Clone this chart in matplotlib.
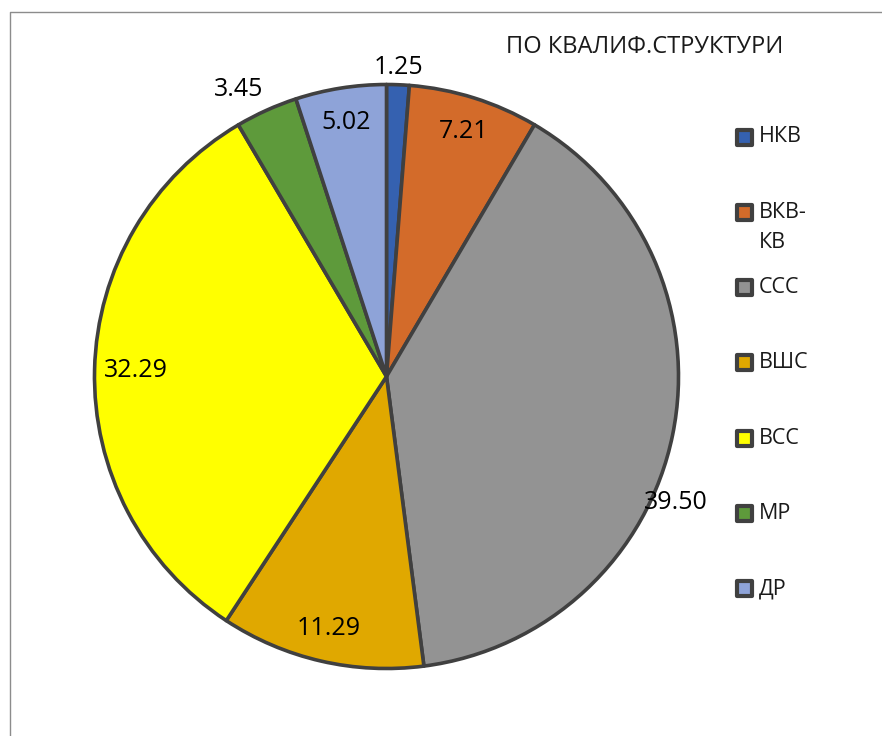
import math

import matplotlib
matplotlib.use('Agg')
import matplotlib.pyplot as plt
from matplotlib.patches import Rectangle
from matplotlib.lines import Line2D

# ── Data ───────────────────────────────────────────────────────────────────────
categories   = ['НКВ', 'ВКВ-\nКВ', 'ССС', 'ВШС', 'ВСС', 'МР', 'ДР']
values       = [1.25, 7.21, 39.50, 11.29, 32.29, 3.45, 5.02]
value_labels = ['1.25', '7.21', '39.50', '11.29', '32.29', '3.45', '5.02']
colors       = ['#3561b0', '#d36b2a', '#939393', '#e0a800', '#ffff00', '#5e9a3b', '#8ea3d8']
title        = 'ПО КВАЛИФ.СТРУКТУРИ'

# ── Layout (pixels in a 882x736 canvas) ────────────────────────────────────────
W, H      = 882, 736
CX, CY, R = 386.5, 376.5, 292
EDGE      = '#404040'
# data label radius (fraction of pie radius) and angle nudge in degrees
LABEL_R    = [1.06, 0.88, 1.08, 0.885, 0.86, 1.105, 0.88]
LABEL_DANG = [0, 0, -12, 0, 0, 3, 0]

plt.rcParams['font.family'] = ['Open Sans', 'DejaVu Sans']


def fx(x):
    return x / W


def fy(y):
    return 1 - y / H


fig = plt.figure(figsize=(W / 100, H / 100), dpi=100)
fig.patch.set_facecolor('white')

# outer chart frame (only left and top edges are visible)
fig.add_artist(Line2D([fx(9.5), fx(9.5), 1], [0, fy(11.5), fy(11.5)],
                      transform=fig.transFigure, color='#8c8c8c', linewidth=1))

ax = fig.add_axes([fx(CX - R), 1 - (CY + R) / H, 2 * R / W, 2 * R / H])
wedges, _ = ax.pie(
    values, colors=colors, startangle=90, counterclock=False, radius=1,
    wedgeprops=dict(edgecolor=EDGE, linewidth=2.6, joinstyle='round'),
)
ax.set_xlim(-1, 1)
ax.set_ylim(-1, 1)
ax.axis('off')

for w, txt, rr, da in zip(wedges, value_labels, LABEL_R, LABEL_DANG):
    a = math.radians((w.theta1 + w.theta2) / 2 + da)
    ax.text(rr * math.cos(a), rr * math.sin(a), txt, ha='center', va='center',
            fontsize=18, color='black', clip_on=False)

fig.text(fx(645), fy(47), title, ha='center', va='center', fontsize=17, color='#1a1a1a')

# legend
LEG_Y0, LEG_DY, MK = 137, 75.3, 15
for i, (lab, col) in enumerate(zip(categories, colors)):
    y = LEG_Y0 + i * LEG_DY
    fig.add_artist(Rectangle((fx(744.5 - MK / 2), fy(y + MK / 2)), MK / W, MK / H,
                             transform=fig.transFigure, facecolor=col,
                             edgecolor=EDGE, linewidth=3, joinstyle='round'))
    for j, line in enumerate(lab.split('\n')):
        fig.text(fx(759), fy(y + j * 30), line, ha='left', va='center',
                 fontsize=15.5, color='#1a1a1a')

fig.savefig('out.png', dpi=100)
